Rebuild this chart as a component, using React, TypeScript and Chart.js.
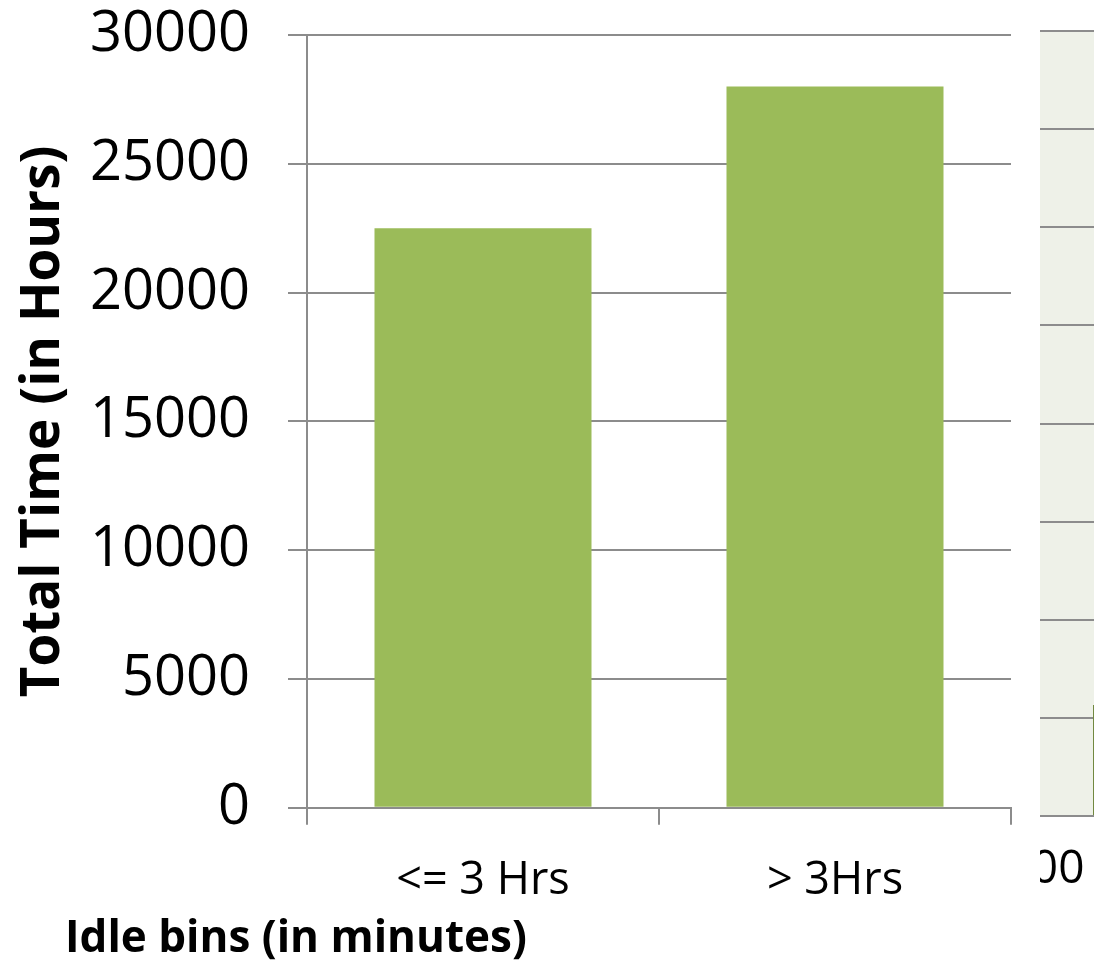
import React, { useEffect, useRef } from 'react';
import { Chart, registerables } from 'chart.js';

Chart.register(...registerables);

// Main chart data
const categories = ['<= 3 Hrs', '> 3Hrs'];
const totalHours = [22500, 28000];
const yTickValues = [0, 5000, 10000, 15000, 20000, 25000, 30000];
const yTitle = 'Total Time (in Hours)';
const xTitle = 'Idle bins (in minutes)';

// Neighbouring (partly hidden) chart data
const sideCategories = ['100', '200'];
const sideValues = [null, 1130];
const sideTickValues = [0, 1000, 2000, 3000, 4000, 5000, 6000, 7000, 8000];

const FONT = "'Open Sans', 'Noto Sans', sans-serif";
const GRID = '#8c8c8c';
const BAR = '#9BBB59';

const areaBg = {
  id: 'areaBg',
  beforeDraw(chart: any) {
    const { ctx, chartArea } = chart;
    ctx.save();
    ctx.fillStyle = '#EEF1E8';
    ctx.fillRect(chartArea.left, chartArea.top, chartArea.right - chartArea.left, chartArea.bottom - chartArea.top);
    ctx.restore();
  },
};

export default function App() {
  const mainRef = useRef<HTMLCanvasElement | null>(null);
  const sideRef = useRef<HTMLCanvasElement | null>(null);

  useEffect(() => {
    const main = new Chart(mainRef.current as HTMLCanvasElement, {
      type: 'bar',
      data: {
        labels: categories,
        datasets: [
          {
            data: totalHours,
            backgroundColor: BAR,
            barPercentage: 0.6165,
            categoryPercentage: 1,
          },
        ],
      },
      options: {
        responsive: false,
        animation: false,
        devicePixelRatio: 1,
        layout: { padding: { left: 65, top: 35, right: 29, bottom: 0 } },
        plugins: {
          legend: { display: false },
          tooltip: { enabled: false },
          title: {
            display: true,
            text: xTitle,
            position: 'bottom',
            align: 'start',
            color: '#000',
            font: { family: FONT, size: 44, weight: 'bold', lineHeight: 1.2 },
            padding: { top: 0, bottom: 0 },
          },
        },
        scales: {
          x: {
            grid: {
              display: true,
              drawOnChartArea: false,
              drawTicks: true,
              tickLength: 17,
              color: GRID,
              lineWidth: 2,
              offset: true,
            },
            border: { display: true, color: GRID, width: 2 },
            ticks: { color: '#000', font: { family: FONT, size: 45 }, padding: 29, maxRotation: 0, autoSkip: false },
            afterFit: (s: any) => {
              s.height = 105.4;
              s.paddingLeft = 0;
              s.paddingRight = 0;
            },
          },
          y: {
            min: 0,
            max: 30000,
            afterBuildTicks: (s: any) => {
              s.ticks = yTickValues.map((v) => ({ value: v }));
            },
            grid: { color: GRID, lineWidth: 2, tickLength: 19 },
            border: { display: true, color: GRID, width: 2 },
            ticks: {
              color: '#000',
              font: { family: FONT, size: 56 },
              padding: 38,
              callback: (v: any) => String(v),
            },
            title: {
              display: true,
              text: yTitle,
              color: '#000',
              font: { family: FONT, size: 53, weight: 'bold', lineHeight: 1.2 },
              padding: { top: -53, bottom: 0 },
            },
            afterFit: (s: any) => {
              s.width = 242;
              s.paddingTop = 0;
              s.paddingBottom = 0;
            },
          },
        },
      } as any,
    });

    const side = new Chart(sideRef.current as HTMLCanvasElement, {
      type: 'bar',
      data: {
        labels: sideCategories,
        datasets: [
          {
            data: sideValues,
            backgroundColor: BAR,
            borderColor: '#71893F',
            borderWidth: 2,
            barPercentage: 0.933,
            categoryPercentage: 1,
          },
        ],
      },
      options: {
        responsive: false,
        animation: false,
        devicePixelRatio: 1,
        layout: { padding: { left: 0, right: 20, top: 31, bottom: 0 } },
        plugins: { legend: { display: false }, tooltip: { enabled: false } },
        scales: {
          x: {
            grid: { display: false, drawTicks: false },
            border: { display: true, color: GRID, width: 2 },
            ticks: {
              color: '#000',
              font: { family: FONT, size: 46 },
              padding: 26,
              maxRotation: 0,
              minRotation: 0,
              autoSkip: false,
            },
            afterFit: (s: any) => {
              s.height = 150;
              s.paddingLeft = 0;
              s.paddingRight = 0;
            },
          },
          y: {
            min: 0,
            max: 8000,
            afterBuildTicks: (s: any) => {
              s.ticks = sideTickValues.map((v) => ({ value: v }));
            },
            ticks: { display: false },
            grid: { color: GRID, lineWidth: 2, drawTicks: false },
            border: { display: false },
            afterFit: (s: any) => {
              s.width = 0;
              s.paddingTop = 0;
              s.paddingBottom = 0;
            },
          },
        },
      } as any,
      plugins: [areaBg],
    });

    return () => {
      main.destroy();
      side.destroy();
    };
  }, []);

  return (
    <div
      style={{
        position: 'fixed',
        left: 0,
        top: 0,
        width: 1101,
        height: 966,
        overflow: 'hidden',
        background: '#fff',
      }}
    >
      <div
        style={{
          position: 'absolute',
          left: 1040,
          top: 0,
          width: 54,
          height: 966,
          overflow: 'hidden',
        }}
      >
        <canvas
          ref={sideRef}
          width={200}
          height={966}
          style={{ position: 'absolute', left: -40, top: 0, width: 200, height: 966 }}
        />
      </div>
      <canvas
        ref={mainRef}
        width={1040}
        height={966}
        style={{ position: 'absolute', left: 0, top: 0, width: 1040, height: 966, display: 'block' }}
      />
    </div>
  );
}
